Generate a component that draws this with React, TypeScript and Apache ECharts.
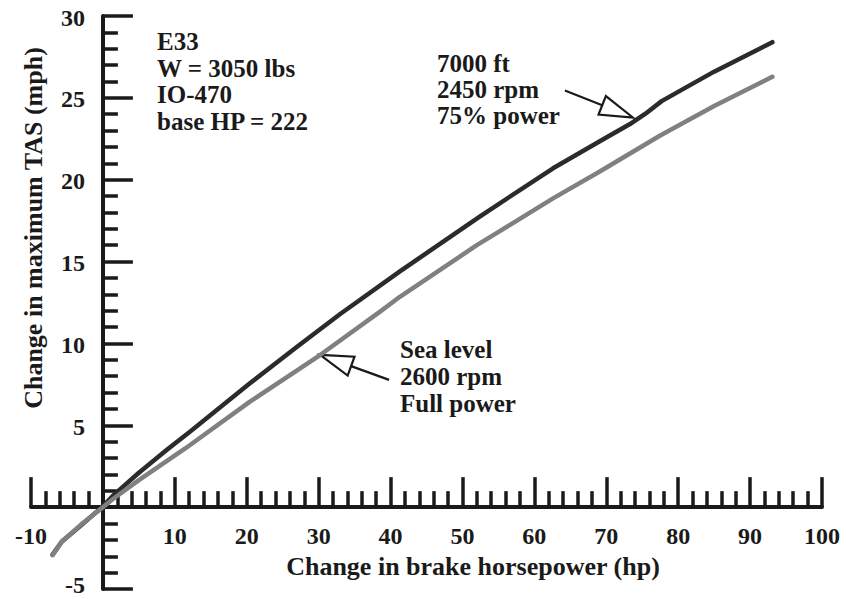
import React, { useEffect, useRef } from "react";
import * as echarts from "echarts";

const xTicks = [-10, 0, 10, 20, 30, 40, 50, 60, 70, 80, 90, 100];
const yTicks = [-5, 0, 5, 10, 15, 20, 25, 30];

const alt7000X = [-7.0, -5.7, -3, 0, 1.4, 5, 8.9, 12.1, 20.4, 27, 33, 41.3, 52.4, 62.6, 69.1, 73.3, 75.5, 77.7, 85, 93.1];
const alt7000Y = [-2.9, -2.1, -1.1, 0.05, 0.7, 2.1, 3.5, 4.6, 7.55, 9.8, 11.8, 14.4, 17.75, 20.7, 22.35, 23.4, 24.05, 24.8, 26.6, 28.4];

const seaX = [-7.0, -5.7, -3, 0, 1.4, 5, 11.5, 20.4, 30.2, 38.5, 41.3, 52, 62.6, 69.1, 73.3, 77.5, 85, 93.1];
const seaY = [-2.93, -2.1, -1.05, 0, 0.5, 1.65, 3.6, 6.43, 9.29, 11.93, 12.85, 16.0, 18.86, 20.5, 21.6, 22.7, 24.5, 26.29];

const modelLines = ["E33", "W = 3050 lbs", "IO-470", "base HP = 222"];
const altLines = ["7000 ft", "2450 rpm", "75% power"];
const seaLines = ["Sea level", "2600 rpm", "Full power"];

const FONT = "Liberation Serif";
const INK = "#1a1a1a";

function textLines(lines: string[], x: number, firstBaseline: number, step: number, size: number) {
  return lines.map((t, i) => ({
    type: "text",
    x,
    y: firstBaseline + i * step - size * 0.34,
    style: {
      text: t,
      fill: INK,
      font: `bold ${size}px "${FONT}"`,
      textAlign: "left",
      textVerticalAlign: "middle",
    },
  }));
}

function arrow(tip: number[], tail: number[]) {
  const dx = tail[0] - tip[0];
  const dy = tail[1] - tip[1];
  const len = Math.sqrt(dx * dx + dy * dy);
  const ux = dx / len;
  const uy = dy / len;
  const headLen = 33;
  const half = 10;
  const bx = tip[0] + ux * headLen;
  const by = tip[1] + uy * headLen;
  const px = -uy;
  const py = ux;
  return [
    {
      type: "line",
      shape: { x1: tail[0], y1: tail[1], x2: bx, y2: by },
      style: { stroke: INK, lineWidth: 2.2 },
    },
    {
      type: "polygon",
      shape: {
        points: [
          [tip[0], tip[1]],
          [bx + px * half, by + py * half],
          [bx - px * half, by - py * half],
        ],
      },
      style: { fill: "#ffffff", stroke: INK, lineWidth: 2.2, lineJoin: "miter" },
    },
  ];
}

export default function App() {
  const ref = useRef<HTMLDivElement>(null);
  useEffect(() => {
    if (!ref.current) return;
    const chart = echarts.init(ref.current, null, { renderer: "svg" });
    chart.setOption({
      animation: false,
      backgroundColor: "#ffffff",
      grid: { left: 31, right: 24, top: 16, bottom: 10, containLabel: false, outerBoundsMode: "none" },
      xAxis: {
        type: "value",
        min: xTicks[0],
        max: xTicks[xTicks.length - 1],
        interval: 10,
        axisLine: { onZero: true, lineStyle: { color: INK, width: 4 } },
        axisTick: { inside: true, length: 30, lineStyle: { color: INK, width: 3.5 } },
        minorTick: { show: true, splitNumber: 5, length: 16, lineStyle: { color: INK, width: 3.5 } },
        splitLine: { show: false },
        axisLabel: { show: false },
      },
      yAxis: {
        type: "value",
        min: yTicks[0],
        max: yTicks[yTicks.length - 1],
        interval: 5,
        axisLine: { onZero: true, lineStyle: { color: INK, width: 4 } },
        axisTick: { inside: true, length: 30, lineStyle: { color: INK, width: 3.5 } },
        minorTick: { show: true, splitNumber: 5, length: 15, lineStyle: { color: INK, width: 3.5 } },
        splitLine: { show: false },
        axisLabel: { show: false },
      },
      series: [
        {
          name: "7000 ft",
          type: "line",
          data: alt7000X.map((x, i) => [x, alt7000Y[i]]),
          showSymbol: false,
          lineStyle: { color: "#2b2b2b", width: 4.5, cap: "round", join: "round" },
        },
        {
          name: "Sea level",
          type: "line",
          data: seaX.map((x, i) => [x, seaY[i]]),
          showSymbol: false,
          lineStyle: { color: "#808080", width: 4.5, cap: "round", join: "round" },
        },
      ],
    });

    const px = (v: number[]) => chart.convertToPixel({ gridIndex: 0 }, v) as number[];
    const origin = px([0, 0]);
    const tipAlt = px([73.7, 23.8]);
    const tipSea = px([30.2, 9.3]);

    const xLabels = xTicks
      .filter((v) => v !== 0)
      .map((v) => ({
        type: "text",
        x: px([v, 0])[0],
        y: origin[1] + 29,
        style: {
          text: String(v),
          fill: INK,
          font: `bold 24px "${FONT}"`,
          textAlign: "center",
          textVerticalAlign: "middle",
        },
      }));
    const yLabels = yTicks
      .filter((v) => v !== 0)
      .map((v) => ({
        type: "text",
        x: origin[0] - 18,
        y: Math.min(px([0, v])[1] + 1.5, 585),
        style: {
          text: String(v),
          fill: INK,
          font: `bold 24px "${FONT}"`,
          textAlign: "right",
          textVerticalAlign: "middle",
        },
      }));

    chart.setOption({
      graphic: [
        ...xLabels,
        ...yLabels,
        ...textLines(modelLines, 157, 50, 26.7, 25),
        ...textLines(altLines, 437, 72, 26, 25),
        ...textLines(seaLines, 400, 358, 27, 25),
        ...arrow(tipAlt, [tipAlt[0] - 68, tipAlt[1] - 27]),
        ...arrow(tipSea, [tipSea[0] + 69, tipSea[1] + 25]),
        {
          type: "text",
          x: 473,
          y: 566,
          style: {
            text: "Change in brake horsepower (hp)",
            fill: INK,
            font: `bold 26px "${FONT}"`,
            textAlign: "center",
            textVerticalAlign: "middle",
          },
        },
        {
          type: "text",
          x: 33,
          y: 228,
          rotation: Math.PI / 2,
          style: {
            text: "Change in maximum TAS (mph)",
            fill: INK,
            font: `bold 26px "${FONT}"`,
            textAlign: "center",
            textVerticalAlign: "middle",
          },
        },
      ],
    });
    return () => chart.dispose();
  }, []);
  return <div ref={ref} style={{ width: 846, height: 599, position: "absolute", left: 0, top: 0 }} />;
}
